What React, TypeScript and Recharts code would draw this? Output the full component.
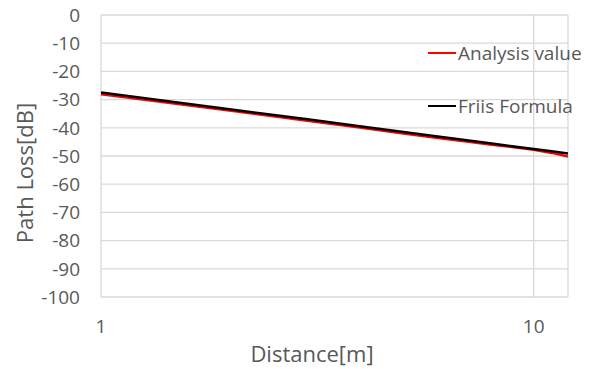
import React from 'react';
import {
  CartesianGrid,
  Label,
  Legend,
  Line,
  LineChart,
  XAxis,
  YAxis,
} from 'recharts';

// distance in metres
const distances = [1, 2, 3, 4, 5, 6, 7, 8, 9, 10, 11, 12];
// path loss in dB
const analysisValues = [-28.1, -34.0, -37.5, -40.0, -42.0, -43.6, -44.9, -46.0, -46.9, -47.8, -48.9, -50.2];
const friisValues = [-27.5, -33.5, -37.0, -39.5, -41.5, -43.1, -44.4, -45.6, -46.6, -47.5, -48.3, -49.1];

const xTicks = [1, 10];
const yTicks = [0, -10, -20, -30, -40, -50, -60, -70, -80, -90, -100];

const data = distances.map((d, i) => ({
  distance: d,
  analysis: analysisValues[i],
  friis: friisValues[i],
}));

const FONT = '"Open Sans", sans-serif';
const TEXT = '#595959';
const GRID = '#d9d9d9';

function LegendBox({ payload }: any) {
  return (
    <div style={{ fontFamily: FONT, fontSize: 19, color: TEXT }}>
      {(payload || []).map((item: any) => (
        <div
          key={item.value}
          style={{ display: 'flex', alignItems: 'center', height: 26, marginBottom: 27 }}
        >
          <span
            style={{
              display: 'inline-block',
              width: 28,
              height: 2.5,
              background: item.color,
              marginRight: 2,
            }}
          />
          <span>{item.value}</span>
        </div>
      ))}
    </div>
  );
}

export default function App() {
  return (
    <div style={{ position: 'absolute', left: 0, top: 0, background: '#fff' }}>
      <LineChart
        width={598}
        height={369}
        data={data}
        margin={{ top: 15, right: 30, bottom: 0, left: 0 }}
      >
        <CartesianGrid stroke={GRID} strokeWidth={1.3} />
        <XAxis
          dataKey="distance"
          type="number"
          scale="log"
          domain={[1, 12]}
          ticks={xTicks}
          allowDataOverflow
          axisLine={false}
          tickLine={false}
          tickSize={0}
          tickMargin={23}
          height={72}
          tick={{ fontFamily: FONT, fontSize: 19, fill: TEXT }}
        >
          <Label
            content={() => (
              <text
                x={312}
                y={362}
                textAnchor="middle"
                fontFamily={FONT}
                fontSize={22}
                fill={TEXT}
              >
                Distance[m]
              </text>
            )}
          />
        </XAxis>
        <YAxis
          type="number"
          domain={[-100, 0]}
          ticks={yTicks}
          interval={0}
          axisLine={false}
          tickLine={false}
          tickSize={0}
          tickMargin={21}
          width={101}
          tick={{ fontFamily: FONT, fontSize: 19, fill: TEXT }}
        >
          <Label
            content={() => (
              <text
                x={33}
                y={173}
                transform="rotate(-90 33 173)"
                textAnchor="middle"
                fontFamily={FONT}
                fontSize={22}
                fill={TEXT}
              >
                Path Loss[dB]
              </text>
            )}
          />
        </YAxis>
        <Legend
          layout="vertical"
          align="center"
          verticalAlign="middle"
          content={<LegendBox />}
          wrapperStyle={{ position: 'absolute', left: 428, top: 40, width: 170, height: 110 }}
        />
        <Line
          name="Analysis value"
          dataKey="analysis"
          stroke="#ff0000"
          strokeWidth={2.5}
          dot={false}
          isAnimationActive={false}
        />
        <Line
          name="Friis Formula"
          dataKey="friis"
          stroke="#000000"
          strokeWidth={2.5}
          dot={false}
          isAnimationActive={false}
        />
      </LineChart>
    </div>
  );
}
